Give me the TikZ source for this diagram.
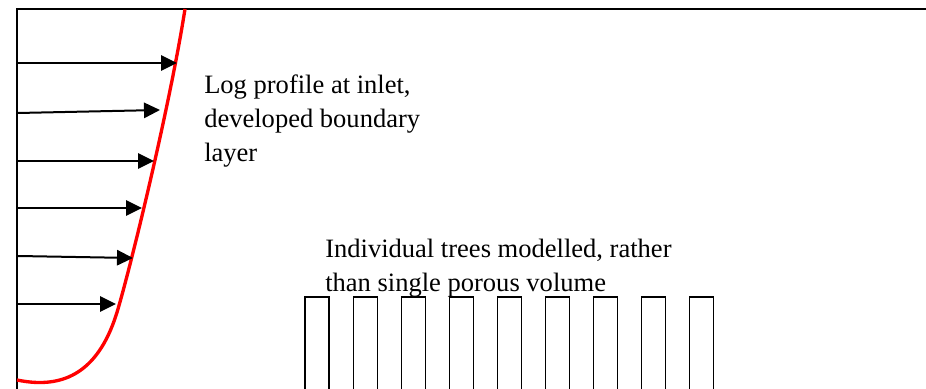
\documentclass[tikz,border=0pt]{standalone}
\usepackage{fontspec}
\setmainfont{Liberation Serif}
\usetikzlibrary{arrows.meta,positioning}

\begin{document}
\begin{tikzpicture}[x=0.75pt,y=0.75pt,
  wind/.style={line width=1.5pt,-{Triangle[length=12pt,width=11.5pt]}},
  tree/.style={line width=0.9pt},
  note/.style={align=left,inner sep=0pt,anchor=north west,font=\fontsize{19.9pt}{25.5pt}\selectfont}]
\useasboundingbox (0,0) rectangle (926,389);

\draw[line width=1.5pt] (17,0) -- (17,380) -- (926,380);

\draw[red,line width=2.5pt] (17,9) .. controls (65,-1) and (100,18) .. (118,80)
  .. controls (134,135) and (171,290) .. (185,380);

\foreach \i/\ya/\xb/\yb in {1/326/177/326, 2/276/160/279, 3/228/154/228, 4/181/142/181, 5/133/133/131, 6/85/116/85}{
  \coordinate (w\i) at (18,\ya);
  \coordinate (p\i) at (\xb,\yb);
  \draw[wind] (w\i) -- (p\i);
}

\foreach \i in {0,...,8}
  \draw[tree] ({305+48.1*\i},0) -- ++(0,92) -- ++(24,0) -- ++(0,-92);

\node[note] (inlet) at (204,314) {Log profile at inlet,\\developed boundary\\layer};
\node[note] (trees) at (325,150) {Individual trees modelled, rather\\than single porous volume};
\end{tikzpicture}
\end{document}
